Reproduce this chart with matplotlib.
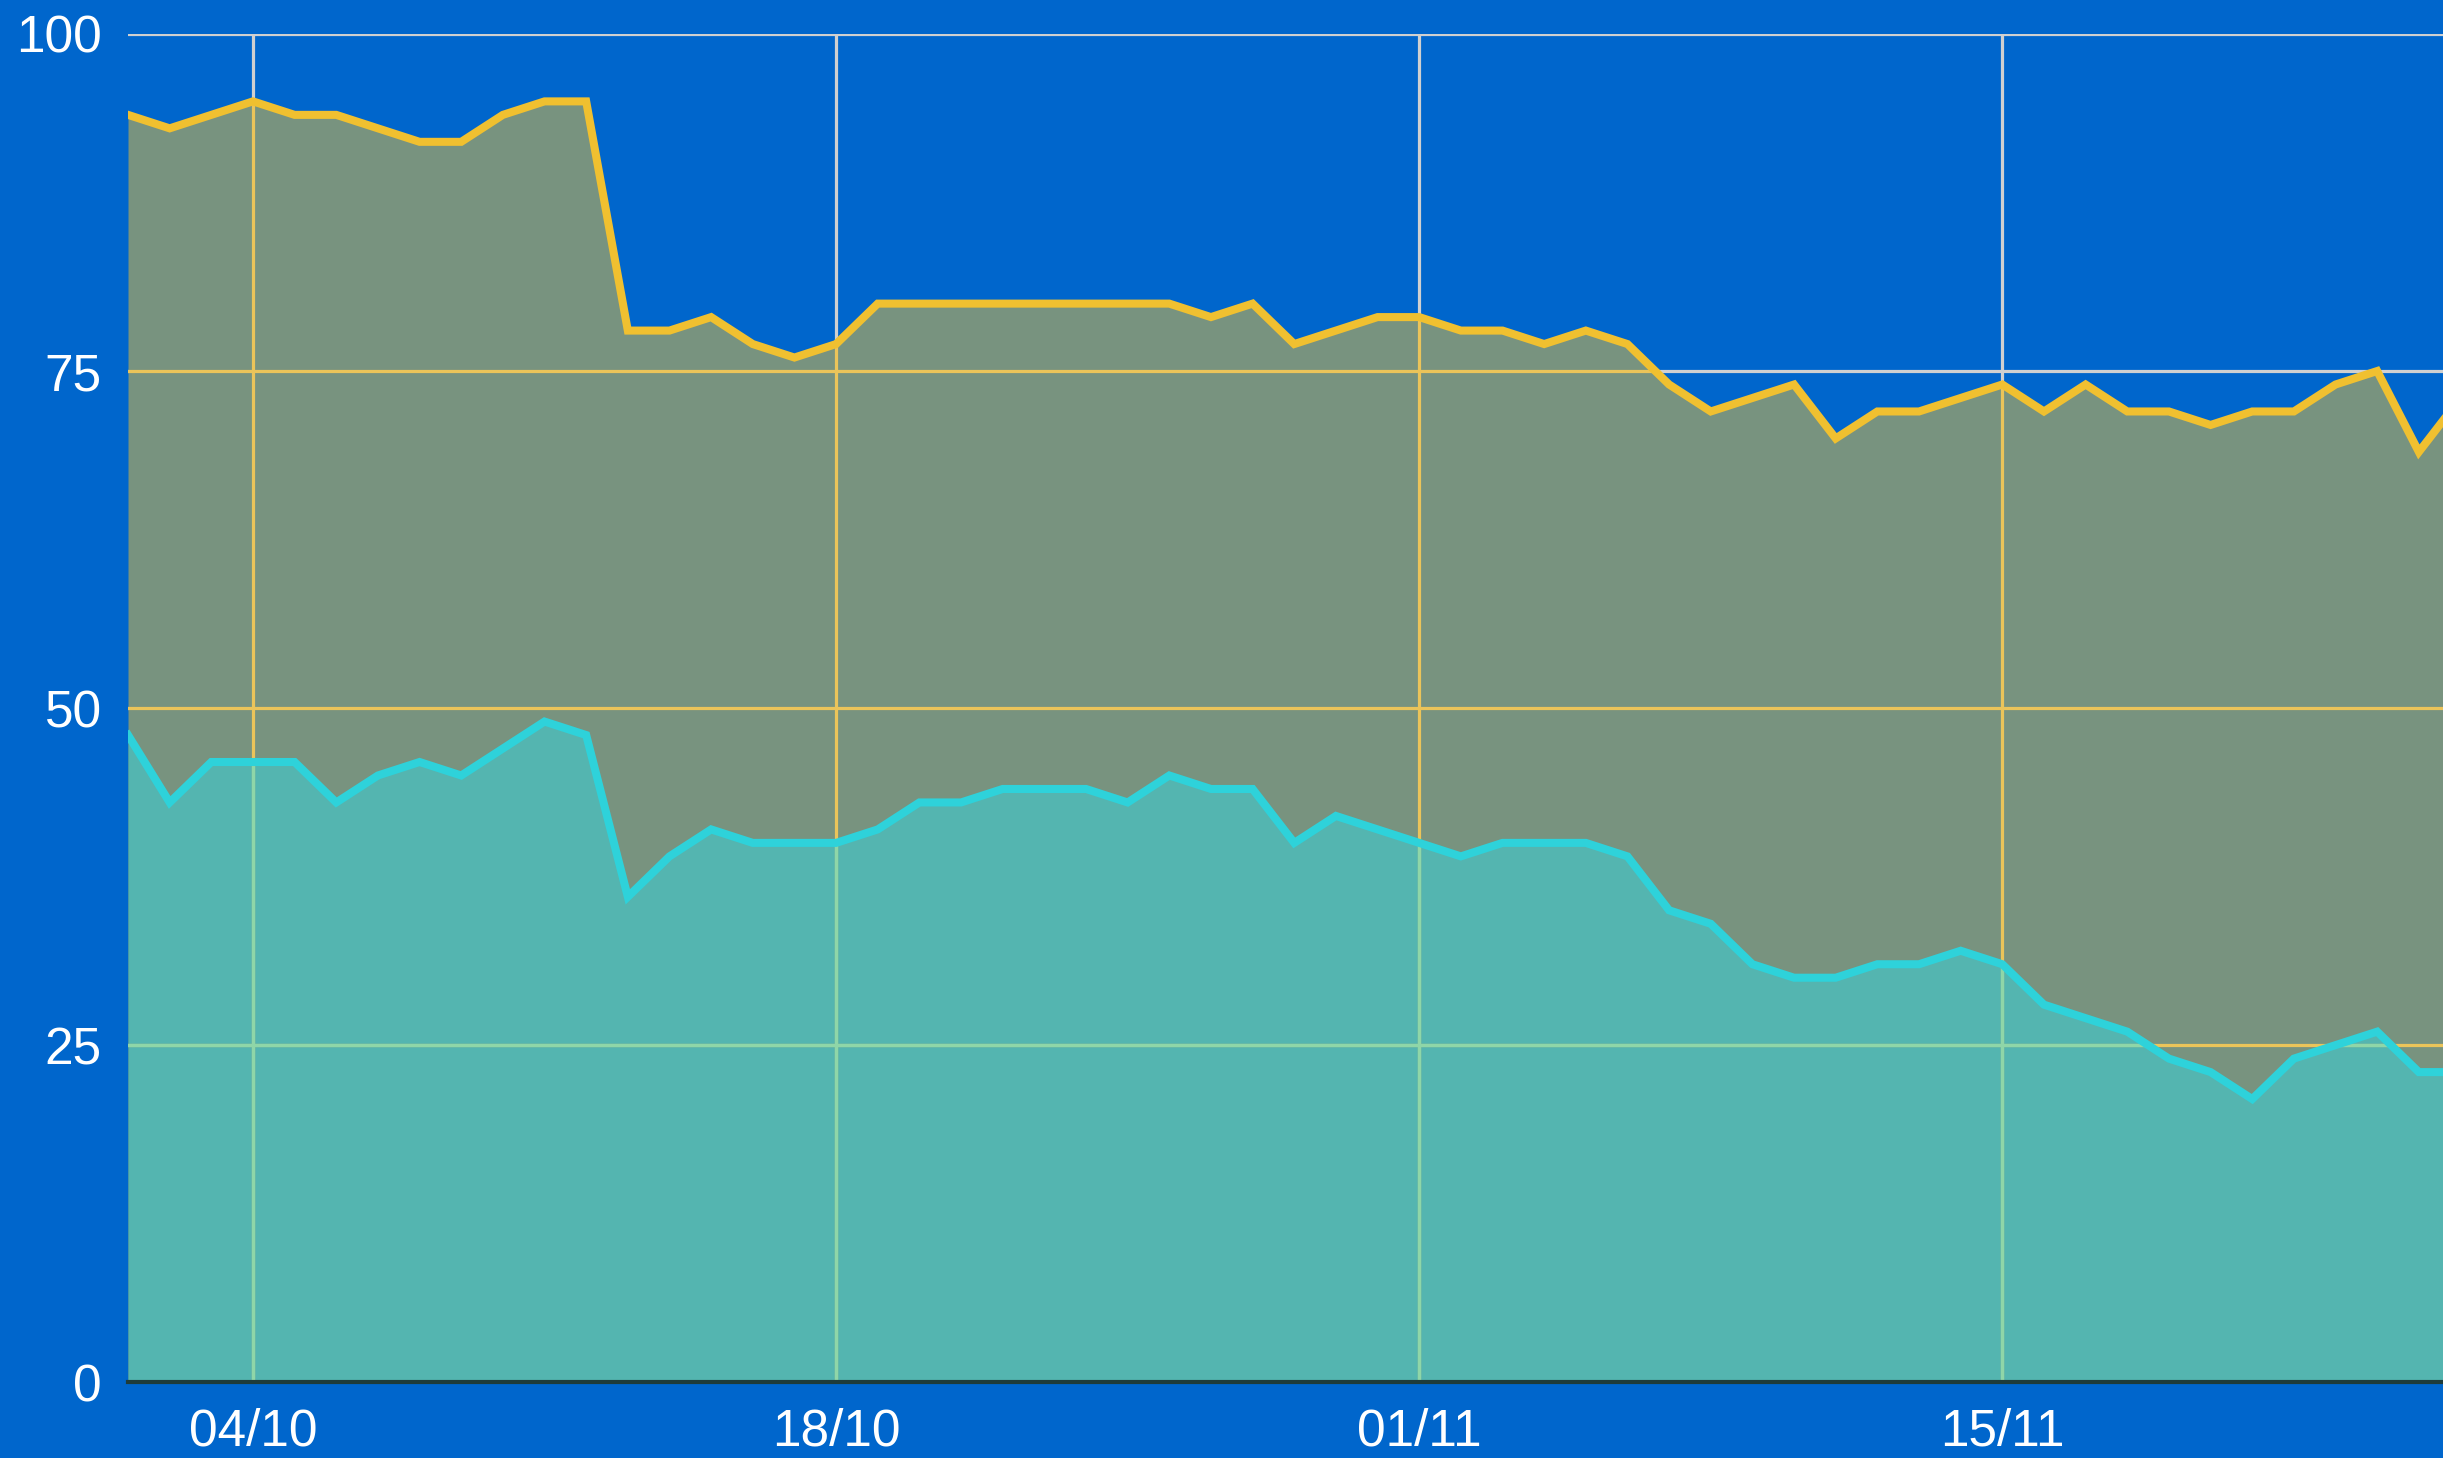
import matplotlib
matplotlib.use("Agg")
import matplotlib.pyplot as plt
import matplotlib.dates as mdates
import pandas as pd

dates = pd.date_range("2023-10-01", "2023-11-26", freq="D")

upper = [94, 93, 94, 95, 94, 94, 93, 92, 92, 94, 95, 95,
         78, 78, 79, 77, 76, 77, 80, 80, 80, 80, 80, 80, 80, 80,
         79, 80, 77, 78, 79, 79, 78, 78, 77, 78, 77, 74, 72, 73, 74,
         70, 72, 72, 73, 74, 72, 74, 72, 72, 71, 72, 72, 74, 75, 69, 73]

lower = [48, 43, 46, 46, 46, 43, 45, 46, 45, 47, 49, 48,
         36, 39, 41, 40, 40, 40, 41, 43, 43, 44, 44, 44, 43, 45,
         44, 44, 40, 42, 41, 40, 39, 40, 40, 40, 39, 35, 34, 31, 30,
         30, 31, 31, 32, 31, 28, 27, 26, 24, 23, 21, 24, 25, 26, 23, 23]

xticks = ["2023-10-04", "2023-10-18", "2023-11-01", "2023-11-15"]
yticks = [0, 25, 50, 75, 100]

BG = "#0066CC"
FILL_UP = "#78937F"
FILL_LO = "#54B5B0"
LINE_UP = "#F0C030"
LINE_LO = "#2ED2DA"
GRID_BG = "#D0D0D0"
GRID_UP = "#EBC45A"
GRID_LO = "#8FD6A8"

plt.rcParams["font.family"] = ["Liberation Sans", "DejaVu Sans"]

fig = plt.figure(figsize=(24.43, 14.58), dpi=100)
fig.patch.set_facecolor(BG)
ax = fig.add_axes([0.0524, 0.052, 0.9476, 0.9247])
ax.set_facecolor(BG)

x = mdates.date2num(dates)
pu = ax.fill_between(x, 0, upper, color=FILL_UP, lw=0, zorder=1)
pl = ax.fill_between(x, 0, lower, color=FILL_LO, lw=0, zorder=1.5)

xt = mdates.date2num(pd.to_datetime(xticks))
path_u = pu.get_paths()[0]
path_l = pl.get_paths()[0]
for col, z, clip in [(GRID_BG, 0.5, None), (GRID_UP, 2, path_u), (GRID_LO, 2.5, path_l)]:
    lines = []
    for yv in yticks[1:]:
        lines.append(ax.axhline(yv, color=col, lw=2.3, zorder=z))
    for xv in xt:
        lines.append(ax.axvline(xv, color=col, lw=2.3, zorder=z))
    if clip is not None:
        for ln in lines:
            ln.set_clip_path(clip, ax.transData)

ax.plot(x, upper, color=LINE_UP, lw=5.8, zorder=3, solid_joinstyle="miter")
ax.plot(x, lower, color=LINE_LO, lw=5.8, zorder=3.5, solid_joinstyle="miter")

ax.set_xlim(mdates.date2num(pd.Timestamp("2023-10-01")), mdates.date2num(pd.Timestamp("2023-11-25")) + 0.58)
ax.set_ylim(0, 100)
ax.set_xticks(xt)
ax.set_xticklabels([pd.Timestamp(d).strftime("%d/%m") for d in xticks])
ax.set_yticks(yticks)
ax.set_yticklabels([str(v) for v in yticks])
ax.tick_params(axis="both", length=0, labelcolor="white", labelsize=37)
ax.tick_params(axis="x", pad=18)
ax.tick_params(axis="y", pad=19)

for s in ["top", "right", "left"]:
    ax.spines[s].set_visible(False)
ax.spines["bottom"].set_color("#1E3C3A")
ax.spines["bottom"].set_linewidth(3)
ax.spines["bottom"].set_zorder(4)

fig.savefig("out.png", dpi=100, facecolor=BG)
